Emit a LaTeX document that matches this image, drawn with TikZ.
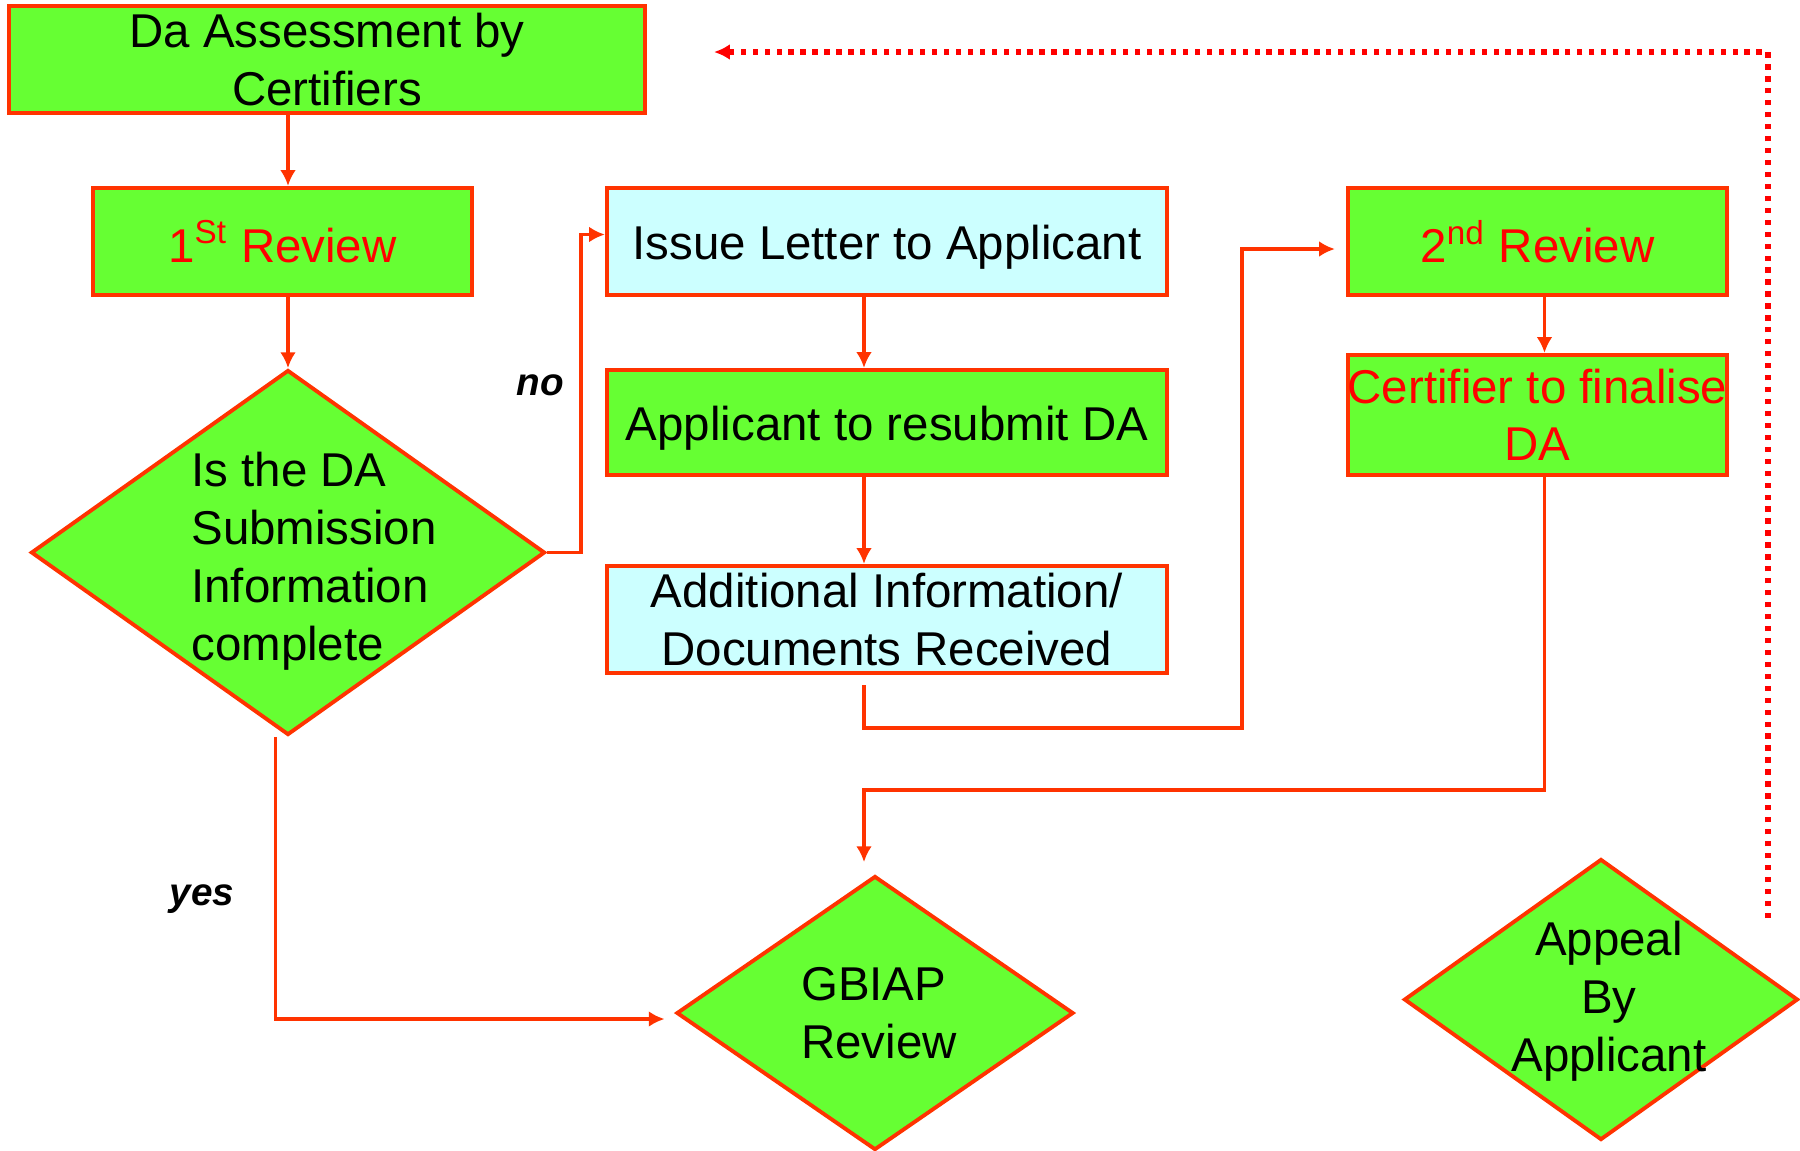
\documentclass[tikz,border=0pt]{standalone}
\usepackage{fontspec}
\setmainfont{Liberation Sans}
\usetikzlibrary{arrows.meta,positioning,calc,shapes.geometric}
\definecolor{boxgreen}{HTML}{66FF33}
\definecolor{boxcyan}{HTML}{CCFFFF}
\definecolor{edgeorange}{HTML}{FF3300}
\definecolor{revred}{HTML}{FF0000}
\tikzset{>={Latex[length=4.5pt,width=4.5pt]}}
\tikzset{
  gbox/.style={draw=edgeorange,line width=1.2pt,fill=boxgreen,align=center,inner sep=0pt,
    font=\fontsize{13.5}{16.3}\selectfont},
  cbox/.style={gbox,fill=boxcyan},
  oneline/.style={text height=10.5pt,text depth=0pt},
  dec/.style={shape=diamond,draw=edgeorange,line width=1.1pt,fill=boxgreen,inner sep=0pt},
  dectext/.style={font=\fontsize{13.5}{16.5}\selectfont},
  answer/.style={font=\fontsize{11}{13}\selectfont\bfseries\itshape}
}

\begin{document}
\begin{tikzpicture}[line width=1pt]
\useasboundingbox (0,0) rectangle (18,-11.51);

\node [gbox,minimum width=6.36cm,minimum height=1.07cm] (assess) at (3.27,-0.595) {Da Assessment by\\Certifiers};
\node [gbox,minimum width=3.79cm,minimum height=1.07cm,text=revred] (rev1) at (2.825,-2.415) {1\textsuperscript{St} Review};
\node [dec,minimum width=5.14cm,minimum height=3.65cm] (check) at (2.88,-5.525) {};
\node [dectext,align=left] (checktext) at (3.14,-5.61) {Is the DA\\Submission\\Information\\complete};

\node [cbox,oneline,minimum width=5.6cm,minimum height=1.07cm] (letter) at (8.87,-2.415) {Issue Letter to Applicant};
\node [gbox,oneline,minimum width=5.6cm,minimum height=1.05cm] (resubmit) at (8.87,-4.225) {Applicant to resubmit DA};
\node [cbox,minimum width=5.6cm,minimum height=1.07cm] (addinfo) at (8.87,-6.195) {Additional Information/\\Documents Received};

\node [gbox,minimum width=3.79cm,minimum height=1.07cm,text=revred] (rev2) at (15.375,-2.415) {2\textsuperscript{nd} Review};
\node [gbox,minimum width=3.79cm,minimum height=1.2cm,text=revred] (finalise) at (15.375,-4.15) {Certifier to finalise\\DA};

\node [dec,minimum width=3.97cm,minimum height=2.74cm] (gbiap) at (8.75,-10.13) {};
\node [dectext,align=left] (gbiaptext) at (8.79,-10.13) {GBIAP\\Review};
\node [dec,minimum width=3.94cm,minimum height=2.81cm] (appeal) at (16.01,-9.995) {};
\node [dectext,align=center] (appealtext) at (16.09,-10.01) {Appeal\\By\\Applicant};

\node [answer] (no) at (5.40,-3.85) {no};
\node [answer] (yes) at (2.02,-8.99) {yes};

\coordinate (jog1) at (12.42,-7.28);
\coordinate (jog2) at (8.64,-7.90);
\coordinate (appealup) at (17.68,-9.18);
\coordinate (backtip) at (7.14,-0.52);

\begin{scope}[line width=1.1pt,color=edgeorange]
\draw[->] (assess.south -| check.north) to (rev1.north -| check.north);
\draw[->] (rev1.south -| check.north) to (check.north);
\draw[->] (check.east) -- ++(0.34,0) |- ([yshift=0.07cm]letter.west);
\draw[->] ([xshift=-0.23cm]letter.south) to ([xshift=-0.23cm]resubmit.north);
\draw[->] ([xshift=-0.23cm]resubmit.south) to ([xshift=-0.23cm]addinfo.north);
\draw[->,shorten >=0.11cm] ([xshift=-0.23cm,yshift=-0.1cm]addinfo.south) |- (jog1) |- ([yshift=-0.075cm]rev2.west);
\draw[->] ([xshift=0.07cm]rev2.south) to ([xshift=0.07cm]finalise.north);
\draw[->,shorten >=0.12cm] ([xshift=0.07cm]finalise.south) |- (jog2) -- (jog2 |- gbiap.north);
\draw[->,shorten >=0.1cm] ([xshift=-0.125cm]check.south) |- ([yshift=-0.06cm]gbiap.west);
\end{scope}

\draw[->,color=revred,line width=1.5pt,dash pattern=on 1.5pt off 1.9pt] (appealup) |- (backtip);

\end{tikzpicture}
\end{document}
